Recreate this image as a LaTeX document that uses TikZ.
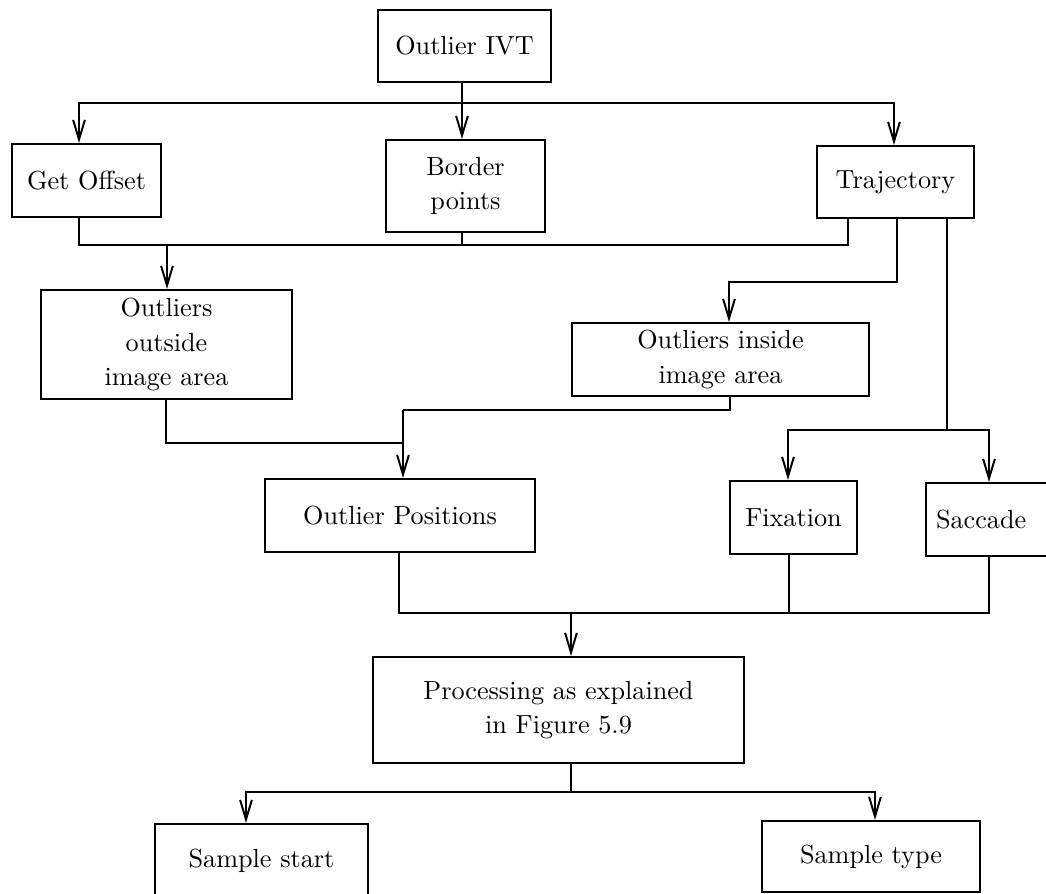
\documentclass[tikz,border=0pt]{standalone}
\usetikzlibrary{arrows.meta}
\begin{document}
\begin{tikzpicture}[x=0.3817pt,y=-0.3817pt,
  box/.style={draw,line width=0.8pt,rectangle,inner sep=0pt,align=center,
    font=\fontsize{10}{13}\selectfont},
  conn/.style={line width=0.75pt},
  arr/.style={line width=0.75pt,-{Straight Barb[length=7.5pt,width=4.5pt]}}]
\useasboundingbox (0,0) rectangle (1046,894);
% boxes
\node[box,minimum width=173*0.3817pt,minimum height=72*0.3817pt] (ivt) at (464.5,46) {Outlier IVT};
\node[box,minimum width=149*0.3817pt,minimum height=73*0.3817pt] (off) at (86.5,180.5) {Get Offset};
\node[box,minimum width=159*0.3817pt,minimum height=92*0.3817pt] (bor) at (465.5,186) {Border\\points};
\node[box,minimum width=157*0.3817pt,minimum height=72*0.3817pt] (tra) at (895.5,182) {Trajectory};
\node[box,minimum width=251*0.3817pt,minimum height=109*0.3817pt] (oout) at (166.5,344.5) {Outliers\\outside\\image area};
\node[box,minimum width=297*0.3817pt,minimum height=73*0.3817pt] (oin) at (720.5,359.5) {Outliers inside\\image area};
\node[box,minimum width=270*0.3817pt,minimum height=73*0.3817pt] (opos) at (400,515.5) {Outlier Positions};
\node[box,minimum width=127*0.3817pt,minimum height=73*0.3817pt] (fix) at (793.5,517.5) {Fixation};
\node[box,align=left,text width=110*0.3817pt,inner xsep=10*0.3817pt,minimum height=73*0.3817pt] (sac) at (991,519.5) {Saccade};
\node[box,minimum width=371*0.3817pt,minimum height=106*0.3817pt] (proc) at (558.5,710) {Processing as explained\\in Figure 5.9};
\node[box,minimum width=213*0.3817pt,minimum height=73*0.3817pt] (sst) at (261.5,860.5) {Sample start};
\node[box,minimum width=218*0.3817pt,minimum height=71*0.3817pt] (sty) at (871,856.5) {Sample type};
% junction coordinates
\coordinate (j1) at (462,103);
\coordinate (jL) at (79,103);
\coordinate (jR) at (894,103);
\coordinate (k1) at (79,245);
\coordinate (k2) at (462,245);
\coordinate (k3) at (848,245);
\coordinate (m1) at (167,245);
\coordinate (t1) at (897,282);
\coordinate (t2) at (729,282);
\coordinate (s0) at (947,430);
\coordinate (s1) at (788,430);
\coordinate (s2) at (989,430);
\coordinate (o1) at (166,443);
\coordinate (o2) at (403,443);
\coordinate (o3) at (730,410);
\coordinate (o4) at (403,410);
\coordinate (p1) at (399,613);
\coordinate (p2) at (789,613);
\coordinate (p3) at (989,613);
\coordinate (p4) at (571,613);
\coordinate (q0) at (571,792);
\coordinate (q1) at (246,792);
\coordinate (q2) at (875,792);
% connectors
\draw[conn] (ivt.south -| j1) -- (j1);
\draw[arr] (j1) -- (bor.north -| j1);
\draw[arr] (j1) -- (jL) -- (off.north -| jL);
\draw[arr] (j1) -- (jR) -- (tra.north -| jR);
\draw[conn] (off.south -| k1) -- (k1) -- (k3) -- (tra.south -| k3);
\draw[conn] (bor.south -| k2) -- (k2);
\draw[arr] (m1) -- (oout.north -| m1);
\draw[arr] (tra.south -| t1) -- (t1) -- (t2) -- (oin.north -| t2);
\draw[conn] (tra.south -| s0) -- (s0);
\draw[arr] (s0) -- (s1) -- (fix.north -| s1);
\draw[arr] (s0) -- (s2) -- (sac.north -| s2);
\draw[conn] (oout.south -| o1) -- (o1) -- (o2);
\draw[conn] (oin.south -| o3) -- (o3) -- (o4);
\draw[arr] (o2) -- (o4) -- (opos.north -| o4);
\draw[conn] (opos.south -| p1) -- (p1) -- (p3) -- (sac.south -| p3);
\draw[conn] (fix.south -| p2) -- (p2);
\draw[arr] (p4) -- (proc.north -| p4);
\draw[conn] (proc.south -| q0) -- (q0);
\draw[arr] (q0) -- (q1) -- (sst.north -| q1);
\draw[arr] (q0) -- (q2) -- (sty.north -| q2);
\end{tikzpicture}
\end{document}
